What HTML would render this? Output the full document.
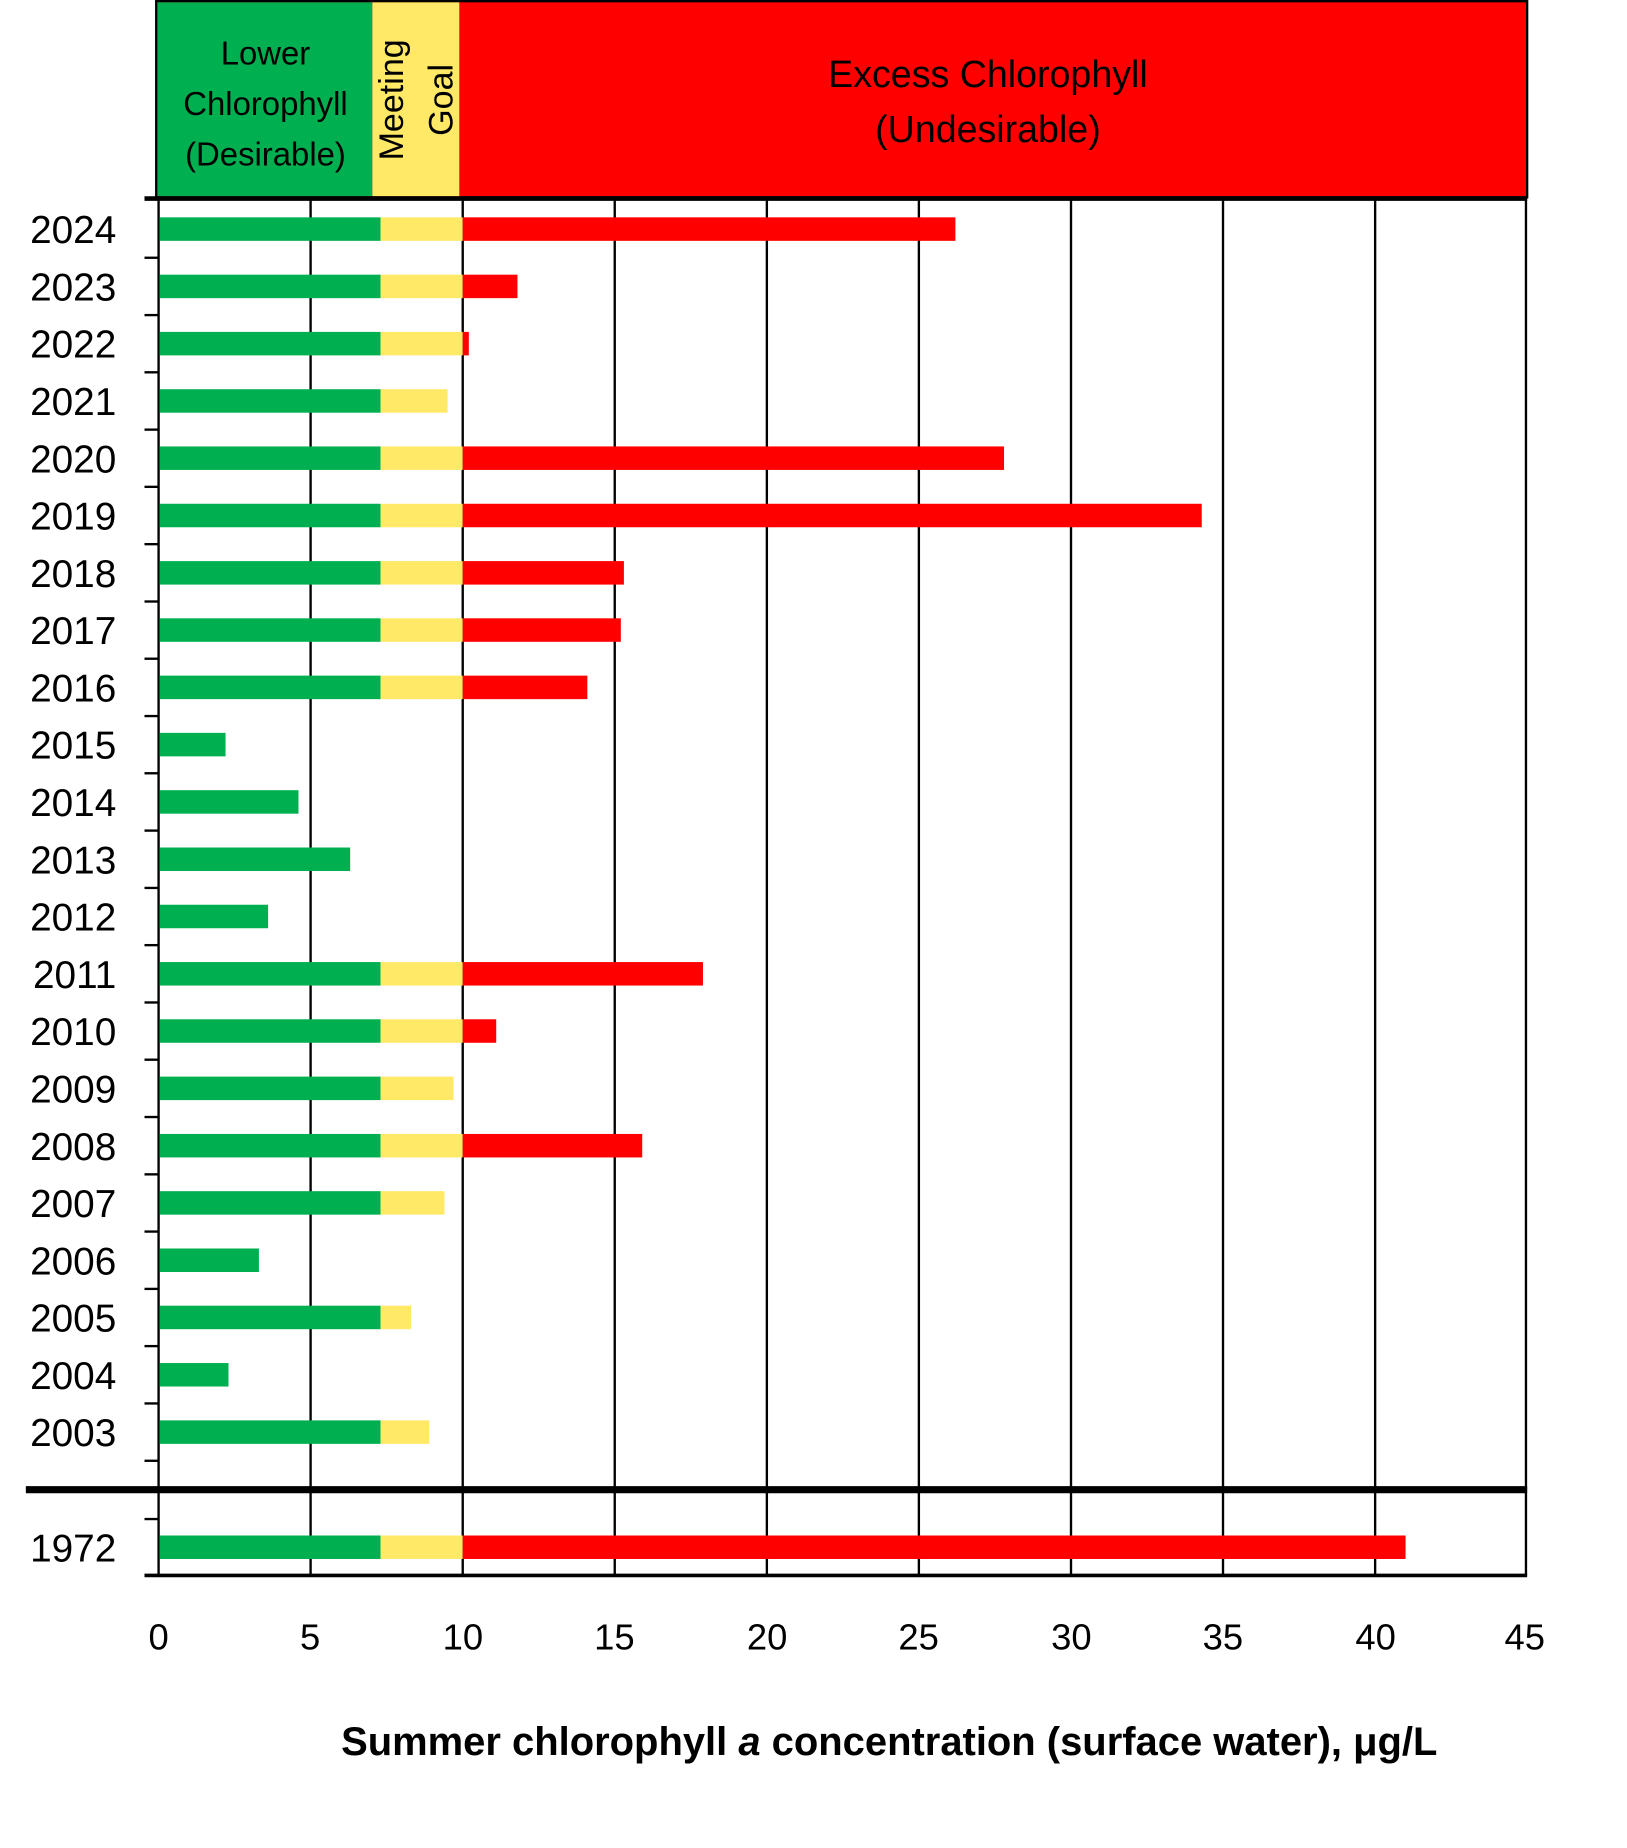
<!DOCTYPE html>
<html><head><style>html,body{margin:0;padding:0;background:#fff}svg{display:block}</style></head>
<body>
<svg width="1627" height="1848" viewBox="0 0 1385 1573" preserveAspectRatio="none" xmlns="http://www.w3.org/2000/svg" font-family="Liberation Sans, sans-serif">
<rect x="133" y="1" width="1167" height="167" fill="#ff0000" stroke="#000" stroke-width="2"/>
<rect x="134" y="2" width="183" height="165" fill="#00b050"/>
<rect x="317" y="2" width="74" height="165" fill="#ffe966"/>
<g font-size="28" text-anchor="middle">
<text x="226" y="55">Lower</text>
<text x="226" y="98">Chlorophyll</text>
<text x="226" y="141">(Desirable)</text>
<text transform="translate(343,85) rotate(-90)" font-size="29">Meeting</text>
<text transform="translate(385,85) rotate(-90)" font-size="29">Goal</text>
<text x="841" y="74" font-size="32">Excess Chlorophyll</text>
<text x="841" y="121" font-size="32">(Undesirable)</text>
</g>
<g stroke="#000" stroke-width="2">
<line x1="264.4" y1="169" x2="264.4" y2="1341"/><line x1="393.9" y1="169" x2="393.9" y2="1341"/>
<line x1="523.3" y1="169" x2="523.3" y2="1341"/><line x1="652.8" y1="169" x2="652.8" y2="1341"/>
<line x1="782.2" y1="169" x2="782.2" y2="1341"/><line x1="911.7" y1="169" x2="911.7" y2="1341"/>
<line x1="1041.1" y1="169" x2="1041.1" y2="1341"/><line x1="1170.6" y1="169" x2="1170.6" y2="1341"/>
<line x1="1299" y1="169" x2="1299" y2="1341"/>
<line x1="135" y1="169" x2="135" y2="1342"/>
</g>
<line x1="123" y1="169" x2="1300" y2="169" stroke="#000" stroke-width="4"/>
<line x1="22" y1="1268" x2="1300" y2="1268" stroke="#000" stroke-width="6"/>
<line x1="123" y1="1341" x2="1300" y2="1341" stroke="#000" stroke-width="3"/>
<g stroke="#000" stroke-width="2">
<line x1="123" y1="219.4" x2="135" y2="219.4"/><line x1="123" y1="268.2" x2="135" y2="268.2"/>
<line x1="123" y1="316.9" x2="135" y2="316.9"/><line x1="123" y1="365.7" x2="135" y2="365.7"/>
<line x1="123" y1="414.4" x2="135" y2="414.4"/><line x1="123" y1="463.2" x2="135" y2="463.2"/>
<line x1="123" y1="512.0" x2="135" y2="512.0"/><line x1="123" y1="560.7" x2="135" y2="560.7"/>
<line x1="123" y1="609.5" x2="135" y2="609.5"/><line x1="123" y1="658.2" x2="135" y2="658.2"/>
<line x1="123" y1="707.0" x2="135" y2="707.0"/><line x1="123" y1="755.8" x2="135" y2="755.8"/>
<line x1="123" y1="804.5" x2="135" y2="804.5"/><line x1="123" y1="853.3" x2="135" y2="853.3"/>
<line x1="123" y1="902.0" x2="135" y2="902.0"/><line x1="123" y1="950.8" x2="135" y2="950.8"/>
<line x1="123" y1="999.6" x2="135" y2="999.6"/><line x1="123" y1="1048.3" x2="135" y2="1048.3"/>
<line x1="123" y1="1097.1" x2="135" y2="1097.1"/><line x1="123" y1="1145.8" x2="135" y2="1145.8"/>
<line x1="123" y1="1194.6" x2="135" y2="1194.6"/><line x1="123" y1="1243.4" x2="135" y2="1243.4"/>
<line x1="123" y1="1293" x2="135" y2="1293"/>
</g>
<g>
<rect x="136" y="185" width="188" height="20" fill="#00b050"/><rect x="324" y="185" width="69.9" height="20" fill="#ffe966"/><rect x="393.9" y="185" width="419.4" height="20" fill="#f00"/>
<rect x="136" y="233.8" width="188" height="20" fill="#00b050"/><rect x="324" y="233.8" width="69.9" height="20" fill="#ffe966"/><rect x="393.9" y="233.8" width="46.6" height="20" fill="#f00"/>
<rect x="136" y="282.5" width="188" height="20" fill="#00b050"/><rect x="324" y="282.5" width="69.9" height="20" fill="#ffe966"/><rect x="393.9" y="282.5" width="5.2" height="20" fill="#f00"/>
<rect x="136" y="331.3" width="188" height="20" fill="#00b050"/><rect x="324" y="331.3" width="57" height="20" fill="#ffe966"/>
<rect x="136" y="380" width="188" height="20" fill="#00b050"/><rect x="324" y="380" width="69.9" height="20" fill="#ffe966"/><rect x="393.9" y="380" width="460.8" height="20" fill="#f00"/>
<rect x="136" y="428.8" width="188" height="20" fill="#00b050"/><rect x="324" y="428.8" width="69.9" height="20" fill="#ffe966"/><rect x="393.9" y="428.8" width="629.1" height="20" fill="#f00"/>
<rect x="136" y="477.6" width="188" height="20" fill="#00b050"/><rect x="324" y="477.6" width="69.9" height="20" fill="#ffe966"/><rect x="393.9" y="477.6" width="137.2" height="20" fill="#f00"/>
<rect x="136" y="526.3" width="188" height="20" fill="#00b050"/><rect x="324" y="526.3" width="69.9" height="20" fill="#ffe966"/><rect x="393.9" y="526.3" width="134.6" height="20" fill="#f00"/>
<rect x="136" y="575.1" width="188" height="20" fill="#00b050"/><rect x="324" y="575.1" width="69.9" height="20" fill="#ffe966"/><rect x="393.9" y="575.1" width="106.1" height="20" fill="#f00"/>
<rect x="136" y="623.8" width="56" height="20" fill="#00b050"/>
<rect x="136" y="672.6" width="118.1" height="20" fill="#00b050"/>
<rect x="136" y="721.4" width="162.1" height="20" fill="#00b050"/>
<rect x="136" y="770.1" width="92.2" height="20" fill="#00b050"/>
<rect x="136" y="818.9" width="188" height="20" fill="#00b050"/><rect x="324" y="818.9" width="69.9" height="20" fill="#ffe966"/><rect x="393.9" y="818.9" width="204.5" height="20" fill="#f00"/>
<rect x="136" y="867.6" width="188" height="20" fill="#00b050"/><rect x="324" y="867.6" width="69.9" height="20" fill="#ffe966"/><rect x="393.9" y="867.6" width="28.5" height="20" fill="#f00"/>
<rect x="136" y="916.4" width="188" height="20" fill="#00b050"/><rect x="324" y="916.4" width="62.1" height="20" fill="#ffe966"/>
<rect x="136" y="965.2" width="188" height="20" fill="#00b050"/><rect x="324" y="965.2" width="69.9" height="20" fill="#ffe966"/><rect x="393.9" y="965.2" width="152.8" height="20" fill="#f00"/>
<rect x="136" y="1013.9" width="188" height="20" fill="#00b050"/><rect x="324" y="1013.9" width="54.4" height="20" fill="#ffe966"/>
<rect x="136" y="1062.7" width="84.4" height="20" fill="#00b050"/>
<rect x="136" y="1111.4" width="188" height="20" fill="#00b050"/><rect x="324" y="1111.4" width="25.9" height="20" fill="#ffe966"/>
<rect x="136" y="1160.2" width="58.5" height="20" fill="#00b050"/>
<rect x="136" y="1209" width="188" height="20" fill="#00b050"/><rect x="324" y="1209" width="41.4" height="20" fill="#ffe966"/>
<rect x="136" y="1307" width="188" height="20" fill="#00b050"/><rect x="324" y="1307" width="69.9" height="20" fill="#ffe966"/><rect x="393.9" y="1307" width="802.6" height="20" fill="#f00"/>
</g>
<g font-size="33" text-anchor="end">
<text x="99" y="207">2024</text><text x="99" y="255.8">2023</text><text x="99" y="304.5">2022</text>
<text x="99" y="353.3">2021</text><text x="99" y="402">2020</text><text x="99" y="450.8">2019</text>
<text x="99" y="499.6">2018</text><text x="99" y="548.3">2017</text><text x="99" y="597.1">2016</text>
<text x="99" y="645.8">2015</text><text x="99" y="694.6">2014</text><text x="99" y="743.4">2013</text>
<text x="99" y="792.1">2012</text><text x="99" y="840.9">2011</text><text x="99" y="889.6">2010</text>
<text x="99" y="938.4">2009</text><text x="99" y="987.2">2008</text><text x="99" y="1035.9">2007</text>
<text x="99" y="1084.7">2006</text><text x="99" y="1133.4">2005</text><text x="99" y="1182.2">2004</text>
<text x="99" y="1231">2003</text><text x="99" y="1329">1972</text>
</g>
<g font-size="31" text-anchor="middle">
<text x="135" y="1404">0</text><text x="264" y="1404">5</text><text x="394" y="1404">10</text><text x="523" y="1404">15</text><text x="653" y="1404">20</text><text x="782" y="1404">25</text><text x="912" y="1404">30</text><text x="1041" y="1404">35</text><text x="1171" y="1404">40</text><text x="1298" y="1404">45</text>
</g>
<text x="757" y="1494" font-size="34" font-weight="bold" text-anchor="middle">Summer chlorophyll <tspan font-style="italic">a</tspan> concentration (surface water), μg/L</text>
</svg>
</body></html>
